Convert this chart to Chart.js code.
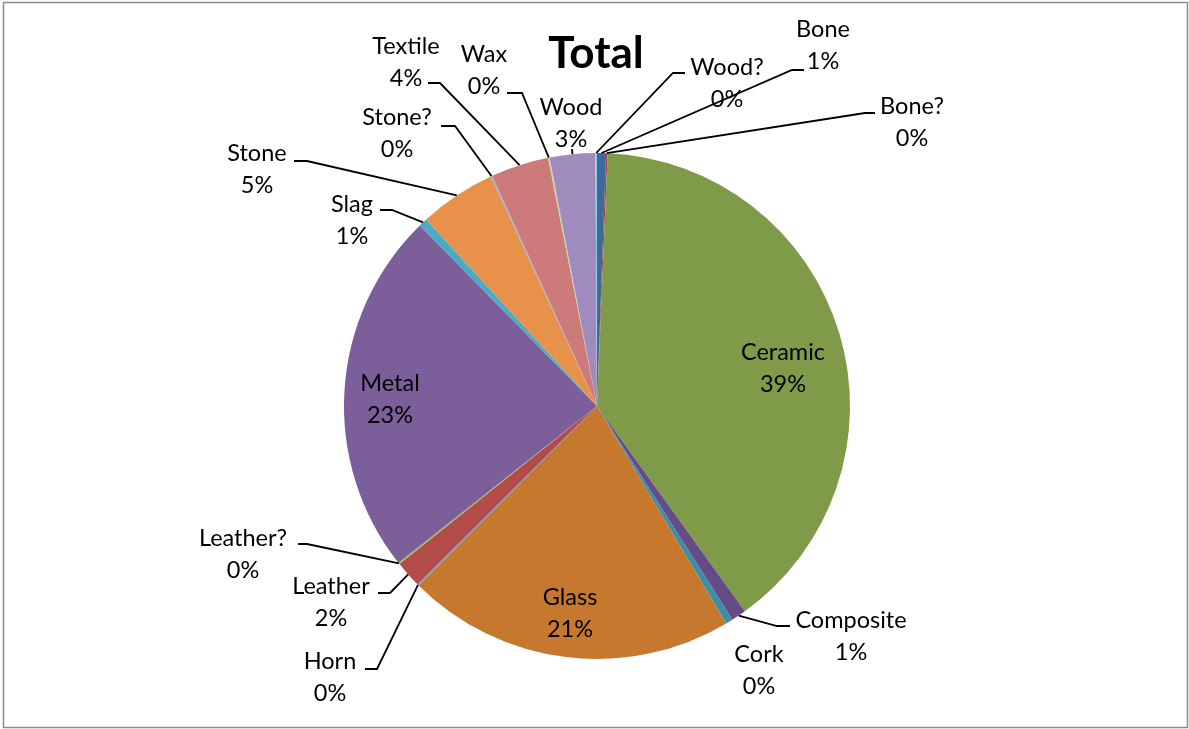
<!DOCTYPE html>
<html>
<head>
<meta charset="utf-8">
<script src="https://cdn.jsdelivr.net/npm/chart.js@4.4.0/dist/chart.umd.min.js"></script>
<style>
  html, body { margin: 0; padding: 0; background: #fff; }
  #wrap { width: 1189px; height: 729px; }
</style>
</head>
<body>
<div id="wrap"><canvas id="pie-chart" width="1189" height="729"></canvas></div>
<script>
let categories = ['Bone', 'Bone?', 'Ceramic', 'Composite', 'Cork', 'Glass', 'Horn', 'Leather', 'Leather?',
  'Metal', 'Slag', 'Stone', 'Stone?', 'Textile', 'Wax', 'Wood', 'Wood?'];
let values = [0.57, 0.1, 39.4, 0.95, 0.45, 21.0, 0.1, 1.7, 0.1, 23.3, 0.55, 4.9, 0.1, 3.7, 0.1, 2.9, 0.1];
let colors = ['#3c6a9c', '#a3403d', '#7f9a48', '#654c88', '#3a8ea6', '#c6782f', '#6f98cf', '#b34c48', '#9bbb59',
  '#7b5e9a', '#4aabc5', '#e8914a', '#95b3d7', '#cd7b7a', '#c3d69b', '#9f8bbd', '#93cddd'];

// label placement (centre x, first line y) and leader elbows [x, y, end x]
let labelPos = {
  'Bone': [823, 29], 'Bone?': [912, 106], 'Ceramic': [783, 352], 'Composite': [851, 620],
  'Cork': [759, 654], 'Glass': [570, 597], 'Horn': [330, 661], 'Leather': [331, 586],
  'Leather?': [243, 538], 'Metal': [390, 383], 'Slag': [352, 204], 'Stone': [257, 153],
  'Stone?': [397, 117], 'Textile': [406, 46], 'Wax': [484, 54], 'Wood': [571, 107], 'Wood?': [727, 67]
};
let leaders = {
  'Bone': [792, 70, 804], 'Bone?': [865, 113, 875], 'Composite': [777, 626, 790],
  'Horn': [377, 669, 365], 'Leather': [390, 593, 378], 'Leather?': [307, 544, 298],
  'Slag': [392, 210, 380], 'Stone': [307, 161, 294], 'Stone?': [455, 126, 441],
  'Textile': [440, 83, 428], 'Wax': [522, 93, 507], 'Wood': [572, 149, 572], 'Wood?': [673, 73, 685]
};

const FONT = 'Lato, "Open Sans", sans-serif';

let pieLabels = {
  id: 'pieLabels',
  afterDraw(chart) {
    let ctx = chart.ctx;
    let meta = chart.getDatasetMeta(0);
    let total = values.reduce((a, b) => a + b, 0);
    ctx.save();

    // outer frame
    ctx.strokeStyle = '#8c8c8c';
    ctx.lineWidth = 1.5;
    ctx.strokeRect(3.5, 2.5, 1184, 725);

    // title
    ctx.fillStyle = '#000';
    ctx.font = 'bold 44px ' + FONT;
    ctx.textAlign = 'center';
    ctx.textBaseline = 'middle';
    ctx.fillText('Total', 596, 54);

    // leader lines
    ctx.strokeStyle = '#000';
    ctx.lineWidth = 1.8;
    categories.forEach((name, i) => {
      let ld = leaders[name];
      if (!ld) return;
      let arc = meta.data[i];
      let p = arc.getProps(['x', 'y', 'startAngle', 'endAngle', 'outerRadius'], true);
      let mid = (p.startAngle + p.endAngle) / 2;
      let sx = p.x + Math.cos(mid) * p.outerRadius;
      let sy = p.y + Math.sin(mid) * p.outerRadius;
      ctx.beginPath();
      ctx.moveTo(sx, sy);
      ctx.lineTo(ld[0], ld[1]);
      ctx.lineTo(ld[2], ld[1]);
      ctx.stroke();
    });

    // labels
    ctx.font = '23.5px ' + FONT;
    categories.forEach((name, i) => {
      let pos = labelPos[name];
      let pct = Math.round(values[i] / total * 100) + '%';
      ctx.fillText(name, pos[0], pos[1]);
      ctx.fillText(pct, pos[0], pos[1] + 32);
    });
    ctx.restore();
  }
};

let pieChart = new Chart(document.getElementById('pie-chart').getContext('2d'), {
  type: 'pie',
  data: {
    labels: categories,
    datasets: [{
      data: values,
      backgroundColor: colors,
      borderWidth: 0
    }]
  },
  options: {
    responsive: false,
    animation: false,
    layout: {
      padding: { top: 153, bottom: 70, left: 5, right: 0 }
    },
    plugins: {
      legend: { display: false },
      tooltip: { enabled: false }
    }
  },
  plugins: [pieLabels]
});
</script>
</body>
</html>
